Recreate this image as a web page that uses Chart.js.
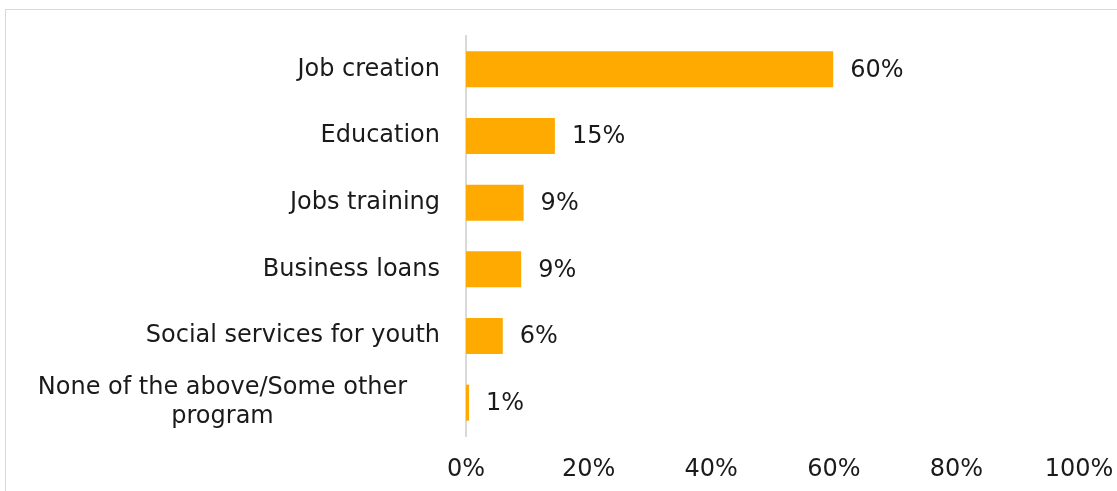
<!DOCTYPE html>
<html>
<head>
<meta charset="utf-8">
<script src="https://cdn.jsdelivr.net/npm/chart.js@4.4.0/dist/chart.umd.min.js"></script>
<style>
  html, body { margin: 0; padding: 0; background: #ffffff; overflow: hidden; }
  #frame { position: absolute; left: 5px; top: 9px; width: 1130px; height: 520px; border: 1px solid #d9d9d9; box-sizing: border-box; }
  #c { position: absolute; left: 0; top: 0; }
</style>
</head>
<body>
<div id="frame"></div>
<canvas id="c" width="1117" height="491"></canvas>
<script>
const categories = [
  "Job creation",
  "Education",
  "Jobs training",
  "Business loans",
  "Social services for youth",
  ["None of the above/Some other", "program"]
];
const shares = [59.9, 14.5, 9.4, 9.0, 6.0, 0.5];
const xTicks = [0, 20, 40, 60, 80, 100];

const FONT = "'DejaVu Sans', sans-serif";
const FONT_SIZE = 24;
const TEXT_COLOR = "#1a1a1a";
const BAR_COLOR = "#FFAA00";

const labelPlugin = {
  id: "customLabels",
  afterDatasetsDraw(chart) {
    const ctx = chart.ctx;
    const meta = chart.getDatasetMeta(0);
    ctx.save();
    ctx.font = FONT_SIZE + "px " + FONT;
    ctx.fillStyle = TEXT_COLOR;
    ctx.textBaseline = "middle";
    meta.data.forEach((bar, i) => {
      ctx.textAlign = "left";
      ctx.fillText(Math.round(shares[i]) + "%", bar.x + 17, bar.y + 1);
    });
    const rightEdge = chart.chartArea.left - 26;
    const boxLeft = 5;
    const lineH = 29;
    meta.data.forEach((bar, i) => {
      const lab = categories[i];
      if (Array.isArray(lab)) {
        const cx = (boxLeft + rightEdge) / 2;
        ctx.textAlign = "center";
        const n = lab.length;
        lab.forEach((line, k) => {
          ctx.fillText(line, cx, bar.y + (k - (n - 1) / 2) * lineH);
        });
      } else {
        ctx.textAlign = "right";
        ctx.fillText(lab, rightEdge, bar.y);
      }
    });
    ctx.restore();
  }
};

new Chart(document.getElementById("c"), {
  type: "bar",
  data: {
    labels: categories,
    datasets: [{
      data: shares,
      backgroundColor: BAR_COLOR,
      borderWidth: 0,
      categoryPercentage: 1.0,
      barPercentage: 0.54
    }]
  },
  options: {
    indexAxis: "y",
    responsive: false,
    devicePixelRatio: 1,
    animation: false,
    layout: { padding: { top: 36, right: 38, left: 0, bottom: 0 } },
    plugins: { legend: { display: false }, tooltip: { enabled: false } },
    scales: {
      x: {
        min: 0,
        max: 100,
        afterBuildTicks(scale) { scale.ticks = xTicks.map(v => ({ value: v })); },
        ticks: {
          callback: v => v + "%",
          font: { family: FONT, size: FONT_SIZE },
          color: TEXT_COLOR,
          padding: 19,
          maxRotation: 0
        },
        grid: { display: false, drawTicks: false },
        border: { display: false },
        afterFit(s) { s.height = 55; s.paddingLeft = 0; s.paddingRight = 0; }
      },
      y: {
        ticks: { display: false },
        grid: { display: false, drawTicks: false },
        border: { display: true, color: "#d9d9d9", width: 2 },
        afterFit(s) { s.width = 466; }
      }
    }
  },
  plugins: [labelPlugin]
});
</script>
</body>
</html>
